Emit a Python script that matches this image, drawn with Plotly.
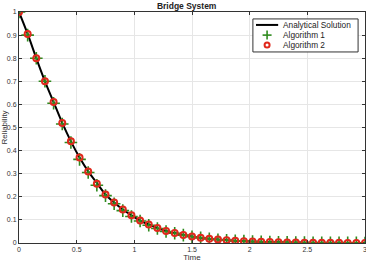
import plotly.graph_objects as go

time = [round(0.075 * i, 3) for i in range(41)]
analytical = [1.0, 0.905, 0.80, 0.70, 0.61, 0.52, 0.44, 0.37, 0.31, 0.26, 0.21,
              0.175, 0.145, 0.12, 0.097, 0.08, 0.065, 0.052, 0.043, 0.035, 0.028,
              0.023, 0.018, 0.015, 0.012, 0.01, 0.008, 0.006, 0.005, 0.004, 0.003,
              0.0025, 0.002, 0.0015, 0.0012, 0.001, 0.0008, 0.0006, 0.0005, 0.0004, 0.0003]
algo1 = [1.0, 0.90, 0.80, 0.70, 0.605, 0.515, 0.435, 0.362, 0.305, 0.25, 0.205,
         0.17, 0.14, 0.115, 0.095, 0.077, 0.063, 0.05, 0.042, 0.034, 0.027,
         0.022, 0.018, 0.014, 0.012, 0.009, 0.008, 0.006, 0.005, 0.004, 0.003,
         0.0025, 0.002, 0.0015, 0.0012, 0.001, 0.0008, 0.0006, 0.0005, 0.0004, 0.0003]
algo2 = [1.0, 0.905, 0.80, 0.70, 0.61, 0.52, 0.44, 0.37, 0.31, 0.257, 0.21,
         0.175, 0.145, 0.12, 0.097, 0.08, 0.065, 0.052, 0.043, 0.035, 0.028,
         0.023, 0.018, 0.015, 0.012, 0.01, 0.008, 0.006, 0.005, 0.004, 0.003,
         0.0025, 0.002, 0.0015, 0.0012, 0.001, 0.0008, 0.0006, 0.0005, 0.0004, 0.0003]

xticks = [0, 0.5, 1, 1.5, 2, 2.5, 3]
yticks = [0, 0.1, 0.2, 0.3, 0.4, 0.5, 0.6, 0.7, 0.8, 0.9, 1]
legend_names = ["Analytical Solution", "Algorithm 1", "Algorithm 2"]

GREEN = "#2e8b1e"
RED = "#e0281c"
FONT = "Liberation Sans"

fig = go.Figure()
fig.add_trace(go.Scatter(x=time, y=analytical, mode="lines", name=legend_names[0],
                         line=dict(color="black", width=2, shape="spline")))
fig.add_trace(go.Scatter(x=time, y=algo1, mode="markers", name=legend_names[1],
                         marker=dict(symbol="cross-thin", size=9, color=GREEN,
                                     line=dict(color=GREEN, width=1.6))))
fig.add_trace(go.Scatter(x=time, y=algo2, mode="markers", name=legend_names[2],
                         marker=dict(symbol="circle-open", size=6, color=RED,
                                     line=dict(color=RED, width=2))))

axis_common = dict(showline=True, linecolor="#333333", linewidth=1, mirror="ticks",
                   ticks="inside", ticklen=3, tickcolor="#333333",
                   showgrid=True, gridcolor="#e6e6e6", gridwidth=1, zeroline=False,
                   automargin=False,
                   tickfont=dict(size=7, color="#333333", family=FONT))

# custom compact legend (MATLAB style)
lx0, lx1, ly0, ly1 = 0.676, 0.980, 0.827, 0.970
rows = [0.944, 0.900, 0.857]
sym_x = 0.717
shapes = [
    dict(type="rect", xref="paper", yref="paper", x0=lx0, x1=lx1, y0=ly0, y1=ly1,
         fillcolor="white", line=dict(color="#333333", width=1), layer="above"),
    dict(type="line", xref="paper", yref="paper", x0=0.685, x1=0.749, y0=rows[0], y1=rows[0],
         line=dict(color="black", width=2), layer="above"),
    dict(type="line", xref="paper", yref="paper", xsizemode="pixel", xanchor=sym_x,
         x0=-4.5, x1=4.5, y0=rows[1], y1=rows[1], line=dict(color=GREEN, width=1.6), layer="above"),
    dict(type="line", xref="paper", yref="paper", ysizemode="pixel", yanchor=rows[1],
         x0=sym_x, x1=sym_x, y0=-4.5, y1=4.5, line=dict(color=GREEN, width=1.6), layer="above"),
    dict(type="circle", xref="paper", yref="paper", xsizemode="pixel", ysizemode="pixel",
         xanchor=sym_x, yanchor=rows[2], x0=-2.5, x1=2.5, y0=-2.5, y1=2.5,
         line=dict(color=RED, width=2), layer="above"),
]
annotations = [
    dict(xref="paper", yref="paper", x=0.757, y=r, text=t, showarrow=False,
         xanchor="left", yanchor="middle", font=dict(size=8.3, color="#222222", family=FONT))
    for r, t in zip(rows, legend_names)
]

fig.update_layout(
    width=366, height=263,
    margin=dict(l=19, r=1, t=12, b=20),
    paper_bgcolor="white", plot_bgcolor="white",
    title=dict(text="<b>Bridge System</b>", x=0.51, xanchor="center", y=0.99, yanchor="top",
               font=dict(size=8.5, color="#222222", family=FONT)),
    xaxis=dict(range=[0, 3], tickvals=xticks, ticktext=[str(v) for v in xticks],
               ticklabeloverflow="allow",
               title=dict(text="Time", standoff=0, font=dict(size=8, color="#333333", family=FONT)),
               **axis_common),
    yaxis=dict(range=[0, 1], tickvals=yticks, ticktext=[("%g" % v) for v in yticks],
               title=dict(text="Reliability", standoff=0, font=dict(size=8, color="#333333", family=FONT)),
               **axis_common),
    shapes=shapes,
    annotations=annotations,
    showlegend=False,
)
fig.write_html("out.html")
